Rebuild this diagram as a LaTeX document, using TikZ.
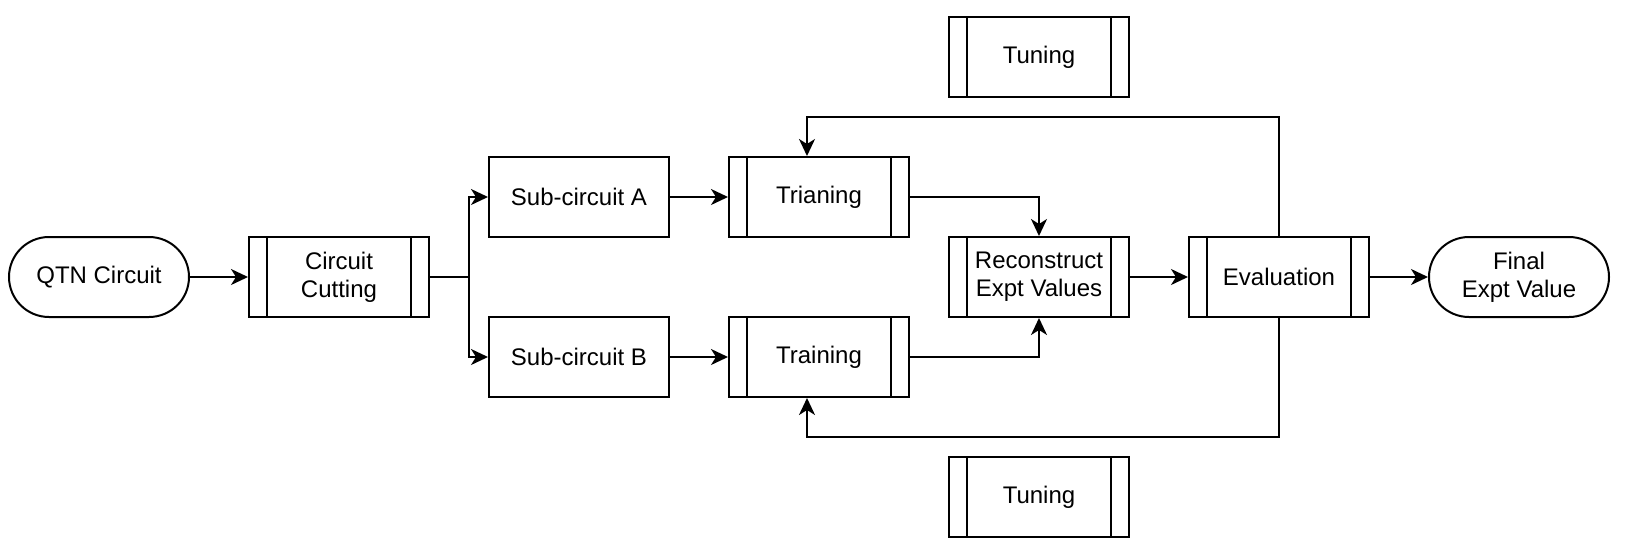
\documentclass[tikz,border=0pt]{standalone}
\usepackage{fontspec}
\setmainfont{Liberation Sans}
\usetikzlibrary{arrows.meta}
\begin{document}
\begin{tikzpicture}[x=0.5pt,y=-0.5pt,
  base/.style={draw=black, line width=1pt, fill=white, minimum width=90pt, minimum height=40pt,
    inner sep=0pt, align=center, font=\fontsize{12}{14}\selectfont},
  term/.style={base, rounded corners=20pt},
  plain/.style={base},
  proc/.style={base, path picture={
      \draw[line width=1pt] ([xshift=9pt]path picture bounding box.north west) -- ([xshift=9pt]path picture bounding box.south west);
      \draw[line width=1pt] ([xshift=-9pt]path picture bounding box.north east) -- ([xshift=-9pt]path picture bounding box.south east);}},
  arr/.style={line width=1pt, -{Stealth[length=8.5pt, width=8pt, inset=2.5pt]}},
  ln/.style={line width=1pt}]
\useasboundingbox (0,0) rectangle (1634,558);
\node[term] (qtn) at (99,277) {QTN Circuit};
\node[proc] (cut) at (339,277) {Circuit\\Cutting};
\node[plain] (suba) at (579,197) {Sub-circuit A};
\node[plain] (subb) at (579,357) {Sub-circuit B};
\node[proc] (tra) at (819,197) {Trianing};
\node[proc] (trb) at (819,357) {Training};
\node[proc] (rec) at (1039,277) {Reconstruct\\Expt Values};
\node[proc] (eval) at (1279,277) {Evaluation};
\node[term] (fin) at (1519,277) {Final\\Expt Value};
\node[proc] (tun1) at (1039,57) {Tuning};
\node[proc] (tun2) at (1039,497) {Tuning};
\coordinate (br) at (469,277);
\coordinate (fbT) at (1279,117);
\coordinate (fbB) at (1279,437);
\draw[arr] (qtn) -- (cut);
\draw[arr] (cut.east) -- (br) |- (suba.west);
\draw[arr] (br) |- (subb.west);
\draw[arr] (suba) -- (tra);
\draw[arr] (subb) -- (trb);
\draw[arr] (tra.east) -| (rec.north);
\draw[arr] (trb.east) -| (rec.south);
\draw[arr] (rec) -- (eval);
\draw[arr] (eval) -- (fin);
\draw[arr] (eval.north) -- (fbT) -| ([xshift=-6pt]tra.north);
\draw[arr] (eval.south) -- (fbB) -| ([xshift=-6pt]trb.south);
\end{tikzpicture}
\end{document}
